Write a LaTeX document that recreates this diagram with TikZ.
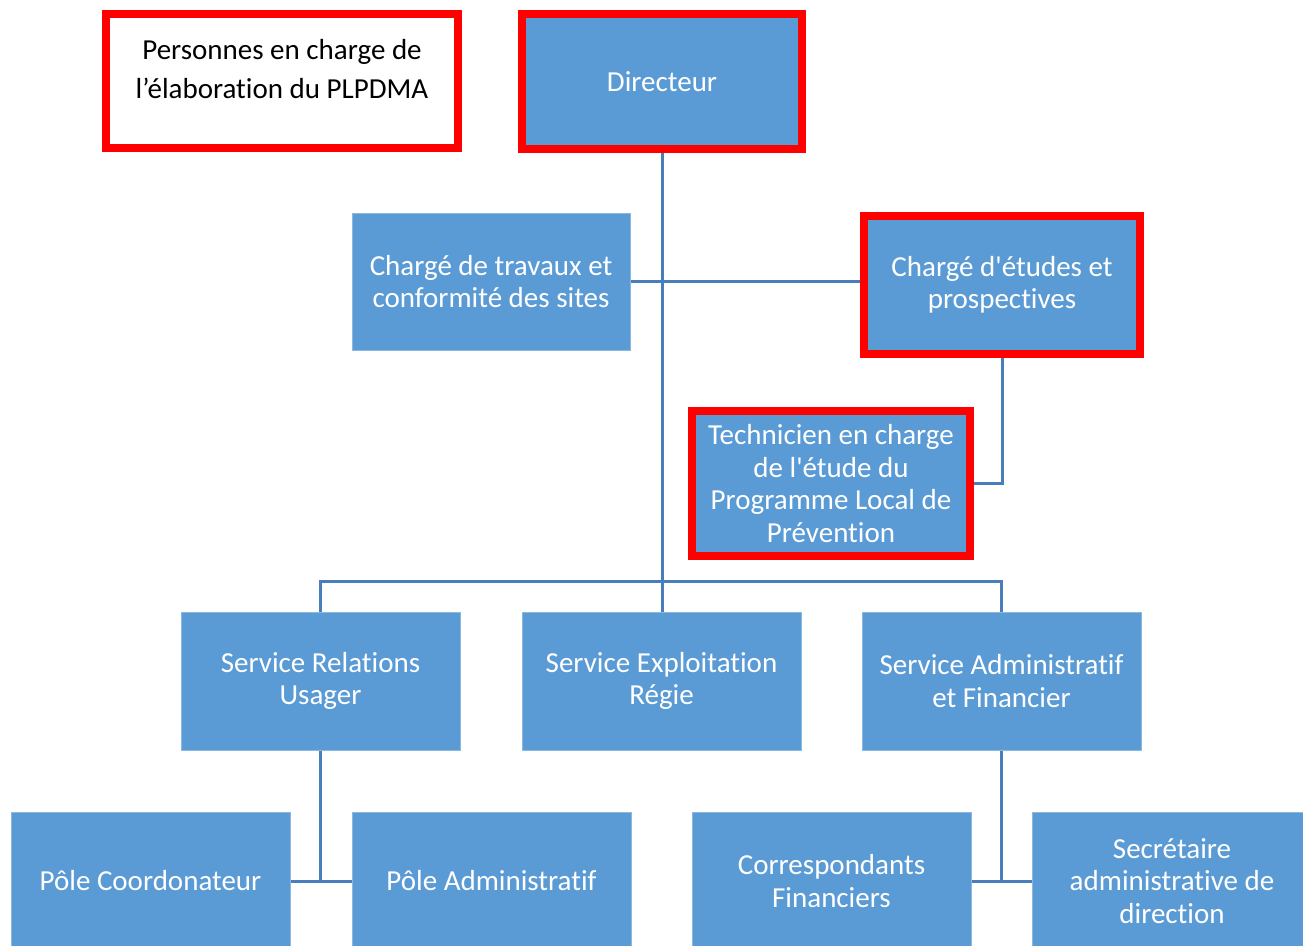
\documentclass[tikz,border=0pt]{standalone}
\usepackage{fontspec}
\newfontfamily\calfont{Carlito}[Ligatures=NoCommon]
\usetikzlibrary{backgrounds}
\definecolor{boxblue}{HTML}{5B9BD5}
\definecolor{lineblue}{HTML}{4A7EBB}
\definecolor{framered}{HTML}{FF0000}
\begin{document}
\begin{tikzpicture}[x=1pt,y=-1pt,
  bluebox/.style={rectangle, fill=boxblue, draw=boxblue!70!white, line width=0.8pt, text=white, align=center, inner sep=0pt,
    minimum width=279pt, minimum height=138pt, font=\calfont\fontsize{29}{32.5}\selectfont},
  redframe/.style={draw=framered, line width=8pt},
  conn/.style={draw=lineblue, line width=3pt}]
\clip (0,0) rectangle (1303,945);
% legend
\node[rectangle, redframe, fill=white, minimum width=352pt, minimum height=134pt, inner sep=0pt] (legend) at (282,81) {};
\node[align=center, inner sep=0pt, font=\calfont\fontsize{29}{39}\selectfont, text=black] (legendtext) at (282,69) {Personnes en charge de\\l’élaboration du PLPDMA};
% top
\node[bluebox, redframe, minimum width=280pt, minimum height=135pt] (dir) at (662,81.5) {Directeur};
\node[bluebox, minimum width=278pt, minimum height=137pt] (trav) at (491,281.5) {Chargé de travaux et\\conformité des sites};
\node[bluebox, redframe, minimum width=276pt, minimum height=138pt] (etud) at (1002,285) {Chargé d'études et\\prospectives};
\node[bluebox, redframe, minimum width=278pt, minimum height=145pt] (tech) at (831,483.5) {Technicien en charge\\de l'étude du\\Programme Local de\\Prévention};
% services
\node[bluebox] (srel) at (320.5,681) {Service Relations\\Usager};
\node[bluebox] (sexp) at (661.5,681) {Service Exploitation\\Régie};
\node[bluebox] (sadm) at (1001.5,681) {Service Administratif\\et Financier};
% bottom row
\node[bluebox] (pcoord) at (150.5,881) {Pôle Coordonateur};
\node[bluebox] (padm) at (491.5,881) {Pôle Administratif};
\node[bluebox] (corr) at (831.5,881) {Correspondants\\Financiers};
\node[bluebox] (secr) at (1172,881) {Secrétaire\\administrative de\\direction};
\coordinate (bus) at (661,581);
\begin{scope}[on background layer]
  \fill[white] (0,0) rectangle (1303,945);
  \draw[conn] (dir.south) -- (dir.south |- sexp.north);
  \draw[conn] (trav.east) -- (etud.west |- trav.east);
  \draw[conn] (etud.south) |- (tech.east);
  \draw[conn] (srel.north) -- (srel.north |- bus) -- (sadm.north |- bus) -- (sadm.north);
  \draw[conn] (srel.south) -- (srel.south |- pcoord.east);
  \draw[conn] (pcoord.east) -- (padm.west);
  \draw[conn] (sadm.south) -- (sadm.south |- corr.east);
  \draw[conn] (corr.east) -- (secr.west);
\end{scope}
\end{tikzpicture}
\end{document}
